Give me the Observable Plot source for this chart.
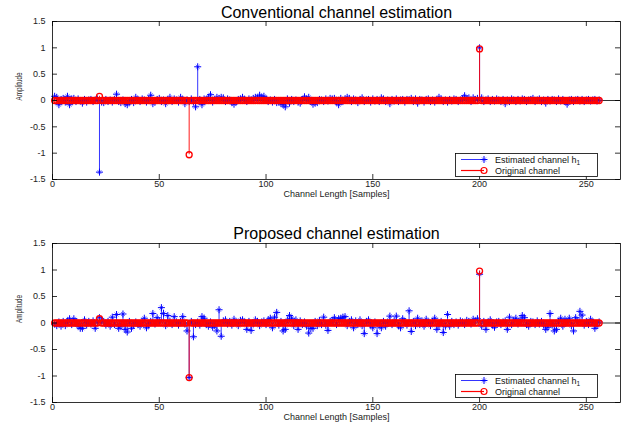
<!DOCTYPE html>
<html><head><meta charset="utf-8">
<script src="https://cdn.jsdelivr.net/npm/d3@7"></script>
<script src="https://cdn.jsdelivr.net/npm/@observablehq/plot@0.6"></script>
<style>
html,body{margin:0;padding:0;background:#fff;}
#wrap{position:relative;width:628px;height:423px;overflow:hidden;}
#wrap > svg{display:block;}
.legend{position:absolute;}
</style></head><body><div id="wrap"></div>
<script>
const panelTitles = ["Conventional channel estimation", "Proposed channel estimation"];
const xTicks = [0, 50, 100, 150, 200, 250];
const yTicks = [-1.5, -1, -0.5, 0, 0.5, 1, 1.5];
const xLabel = "Channel Length [Samples]";
const yLabel = "Amplitude";
const legendLabels = ["Estimated channel h", "Original channel"];
const legendSub = "1";
const sampleCount = 256;
// original channel: non-zero taps (all other taps are 0)
const origTaps = [22, 64, 200];
const origGains = [0.08, -1.03, 0.98];

const estConventional = [
 0.08, 0.06,-0.08, 0.02, 0.04,-0.03, 0.08,-0.08, 0.03, 0.04,-0.02, 0.03,-0.01,-0.05, 0.02,-0.03,
 0.01, 0.02,-0.02, 0.01, 0.03,-1.36,-0.03,-0.04, 0.02,-0.02, 0.01,-0.03, 0.02, 0.12,-0.02,-0.04,
 0.01,-0.06,-0.08,-0.03, 0.02,-0.04, 0.06, 0.02,-0.02, 0.03, 0.01,-0.03, 0.02, 0.10,-0.06,-0.03,
 0.02, 0.04,-0.02, 0.01,-0.06, 0.02, 0.06,-0.02, 0.03, 0.01,-0.03, 0.06, 0.02,-0.06, 0.01,-0.02,
 0.03,-0.03,-0.12, 0.64, 0.02,-0.08, 0.03, 0.02, 0.06, 0.11,-0.03, 0.02, 0.06, 0.04, 0.06, 0.05,
-0.02, 0.03, 0.01,-0.04,-0.07,-0.03, 0.02, 0.03, 0.06, 0.02,-0.02, 0.03, 0.01, 0.04, 0.06, 0.05,
 0.10, 0.06, 0.08, 0.03,-0.02, 0.01,-0.03, 0.02,-0.04,-0.03,-0.06,-0.08,-0.12, 0.03,-0.05, 0.02,
-0.02, 0.01,-0.03,-0.05, 0.02, 0.07, 0.03, 0.06,-0.02,-0.07,-0.05,-0.04, 0.02, 0.01,-0.02, 0.03,
-0.01, 0.04, 0.03, 0.04,-0.03,-0.08, 0.04,-0.02, 0.03, 0.06, 0.04,-0.02, 0.03, 0.01,-0.04, 0.02,
 0.05,-0.02, 0.01, 0.02,-0.03, 0.03,-0.01, 0.02,-0.02, 0.05, 0.03,-0.02, 0.01,-0.06, 0.02,-0.01,
 0.03,-0.02, 0.01, 0.02,-0.03, 0.02, 0.01, 0.04,-0.02, 0.03,-0.05, 0.02, 0.01,-0.03, 0.02, 0.03,
-0.02, 0.01,-0.03, 0.02, 0.06, 0.03,-0.02, 0.01,-0.03, 0.02,-0.01, 0.03, 0.02,-0.02, 0.01, 0.03,
 0.09, 0.02, 0.05,-0.02, 0.05, 0.02, 0.04, 1.00, 0.05,-0.02, 0.01, 0.03,-0.02, 0.02,-0.01, 0.03,
 0.01,-0.02, 0.02,-0.06, 0.01,-0.02, 0.03, 0.01,-0.02, 0.02,-0.01, 0.03, 0.02,-0.02, 0.01, 0.02,
 0.04,-0.02, 0.01, 0.03,-0.02, 0.01,-0.05, 0.02,-0.01, 0.02, 0.01,-0.02, 0.03,-0.01, 0.02,-0.02,
-0.07, 0.01, 0.02,-0.02, 0.01, 0.02,-0.01, 0.02,-0.02, 0.01, 0.02,-0.01, 0.01, 0.02,-0.01, 0.01
];

const estProposed = [
-0.02,-0.05, 0.02,-0.06, 0.03,-0.05, 0.04, 0.08,-0.03, 0.08, 0.03,-0.06,-0.10,-0.10, 0.06,-0.04,
 0.03,-0.02, 0.04,-0.10, 0.02, 0.10, 0.05, 0.03,-0.04, 0.03,-0.06, 0.11,-0.03, 0.16,-0.10,-0.06,
 0.17,-0.12,-0.17, 0.03,-0.10,-0.04, 0.02,-0.03,-0.06, 0.02, 0.09,-0.09,-0.04, 0.03, 0.18,-0.02,
 0.10, 0.04, 0.29, 0.18,-0.05, 0.14, 0.03,-0.03, 0.12, 0.02,-0.04, 0.03, 0.12,-0.02,-0.15,-1.03,
 0.03,-0.26,-0.03, 0.02,-0.04, 0.12, 0.09,-0.03,-0.06, 0.02,-0.08,-0.05,-0.15, 0.25,-0.25, 0.04,
 0.06,-0.02, 0.03,-0.04, 0.07, 0.02,-0.05, 0.05, 0.06, 0.02,-0.12, 0.03,-0.14,-0.02, 0.06, 0.03,
-0.05, 0.02, 0.04,-0.03, 0.06, 0.09,-0.09, 0.11, 0.20,-0.04, 0.03,-0.15,-0.12, 0.06, 0.14, 0.09,
-0.05, 0.06,-0.12, 0.04,-0.03, 0.02,-0.06,-0.19,-0.10,-0.10, 0.03,-0.05, 0.05,-0.03, 0.11,-0.04,
-0.14, 0.03, 0.05, 0.10,-0.03, 0.08, 0.09, 0.11, 0.12,-0.05, 0.03, 0.06,-0.09, 0.04,-0.03, 0.06,
-0.05,-0.20, 0.03, 0.06,-0.04,-0.09, 0.02,-0.20,-0.04,-0.09, 0.03,-0.06, 0.02, 0.13,-0.03, 0.04,
 0.13,-0.05,-0.09, 0.08, 0.03,-0.04, 0.23,-0.16, 0.03,-0.05, 0.09,-0.03, 0.04,-0.06, 0.07, 0.02,
-0.05, 0.03, 0.09,-0.12,-0.05, 0.03,-0.18,-0.06, 0.16,-0.06, 0.03,-0.03, 0.02,-0.04, 0.04, 0.02,
-0.03, 0.05, 0.03,-0.02, 0.07, 0.04, 0.08, 0.92,-0.06, 0.03,-0.12, 0.02, 0.06,-0.04,-0.08, 0.02,
 0.03,-0.03, 0.02, 0.04,-0.12, 0.11,-0.03, 0.05, 0.09,-0.02, 0.06, 0.14, 0.10,-0.03,-0.06, 0.03,
 0.02,-0.03, 0.04,-0.02, 0.03,-0.04,-0.12,-0.08, 0.18,-0.04,-0.15,-0.12, 0.03, 0.09,-0.06, 0.07,
 0.02, 0.09,-0.05,-0.15, 0.10, 0.04, 0.22, 0.15,-0.04, 0.03,-0.03, 0.07, 0.02,-0.10,-0.05, 0.02
];

const BLUE = "#0000ff", RED = "#ff0000";
const samples = d3.range(1, sampleCount + 1);
const origData = samples.map(n => {
  const k = origTaps.indexOf(n);
  return {n, v: k >= 0 ? origGains[k] : 0};
});
const fmt = d => String(d);

function panel(title, est, cfg) {
  const data = samples.map((n, i) => ({n, v: est[i]}));
  const H = cfg.height - cfg.marginTop - cfg.marginBottom;
  const W = 628 - cfg.marginLeft - cfg.marginRight;
  const tick = 5;
  return Plot.plot({
    width: 628, height: cfg.height,
    marginLeft: cfg.marginLeft, marginRight: cfg.marginRight,
    marginTop: cfg.marginTop, marginBottom: cfg.marginBottom,
    style: {fontFamily: "Liberation Sans, Arial, sans-serif", fontSize: "9px", color: "#222", background: "#fff", overflow: "visible"},
    x: {domain: [0, 266], ticks: xTicks},
    y: {domain: [-1.5, 1.5], ticks: yTicks},
    marks: [
      Plot.ruleY([0], {stroke: "#000", strokeWidth: 0.8}),
      Plot.ruleX(data, {x: "n", y1: 0, y2: "v", stroke: BLUE, strokeWidth: 0.8}),
      Plot.dot(data, {x: "n", y: "v", symbol: "plus", r: 2.4, stroke: BLUE, fill: "none", strokeWidth: 1}),
      Plot.dot(data, {x: "n", y: "v", symbol: "times", r: 1.9, stroke: BLUE, fill: "none", strokeWidth: 0.6}),
      Plot.ruleX(origData, {x: "n", y1: 0, y2: "v", stroke: RED, strokeWidth: 0.9}),
      Plot.dot(origData, {x: "n", y: "v", symbol: "circle", r: 3, stroke: RED, fill: "none", strokeWidth: 1.3}),
      Plot.frame({stroke: "#000", strokeWidth: 0.8}),
      Plot.ruleX(xTicks, {x: d => d, insetTop: H - tick, stroke: "#000", strokeWidth: 0.8}),
      Plot.ruleX(xTicks, {x: d => d, insetBottom: H - tick, stroke: "#000", strokeWidth: 0.8}),
      Plot.ruleY(yTicks, {y: d => d, insetRight: W - tick, stroke: "#000", strokeWidth: 0.8}),
      Plot.ruleY(yTicks, {y: d => d, insetLeft: W - tick, stroke: "#000", strokeWidth: 0.8}),
      Plot.axisX(xTicks, {tickSize: 0, tickPadding: 1.5, tickFormat: fmt, label: null, fontSize: 9}),
      Plot.axisY(yTicks, {tickSize: 0, tickPadding: 7, tickFormat: fmt, label: null, fontSize: 9}),
      Plot.text([title], {frameAnchor: "top", lineAnchor: "middle", dy: cfg.titleDy, fontSize: 16, fill: "#000"}),
      Plot.text([xLabel], {frameAnchor: "bottom", lineAnchor: "middle", dy: 14.5, fontSize: 9, fill: "#222"}),
      Plot.text([yLabel], {frameAnchor: "left", lineAnchor: "middle", dx: -33, rotate: -90, fontSize: 9, fill: "#222", className: "ylab"})
    ]
  });
}

function legend(top) {
  const svg = d3.create("svg").attr("class", "legend")
    .attr("width", 143).attr("height", 24)
    .style("left", "455px").style("top", top + "px");
  svg.append("rect").attr("x", 0.5).attr("y", 0.5).attr("width", 142).attr("height", 23)
    .attr("fill", "#fff").attr("stroke", "#000").attr("stroke-width", 0.8);
  const rows = [6.5, 17.5];
  svg.append("line").attr("x1", 6).attr("x2", 29).attr("y1", rows[0]).attr("y2", rows[0]).attr("stroke", BLUE).attr("stroke-width", 0.8);
  svg.append("path").attr("transform", `translate(29,${rows[0]})`).attr("d", d3.symbol(d3.symbolPlus, 18)()).attr("stroke", BLUE).attr("fill", "none");
  svg.append("path").attr("transform", `translate(29,${rows[0]})`).attr("d", d3.symbol(d3.symbolTimes, 12)()).attr("stroke", BLUE).attr("fill", "none").attr("stroke-width", 0.6);
  svg.append("line").attr("x1", 6).attr("x2", 29).attr("y1", rows[1]).attr("y2", rows[1]).attr("stroke", RED).attr("stroke-width", 1.2);
  svg.append("circle").attr("cx", 29).attr("cy", rows[1]).attr("r", 3).attr("stroke", RED).attr("fill", "none").attr("stroke-width", 1.2);
  const t1 = svg.append("text").attr("x", 40).attr("y", rows[0] + 3).attr("font-size", 9)
    .attr("font-family", "Liberation Sans, Arial, sans-serif").attr("fill", "#111");
  t1.append("tspan").text(legendLabels[0]);
  t1.append("tspan").attr("dy", 2.5).attr("font-size", 6.5).text(legendSub);
  svg.append("text").attr("x", 40).attr("y", rows[1] + 3).attr("font-size", 9)
    .attr("font-family", "Liberation Sans, Arial, sans-serif").attr("fill", "#111").text(legendLabels[1]);
  return svg.node();
}

const wrap = document.getElementById("wrap");
const p1 = panel(panelTitles[0], estConventional, {height: 211, marginTop: 21, marginBottom: 32, marginLeft: 52, marginRight: 8, titleDy: -9});
const p2 = panel(panelTitles[1], estProposed, {height: 212, marginTop: 32, marginBottom: 21, marginLeft: 52, marginRight: 8, titleDy: -10});
wrap.append(p1, p2);
wrap.append(legend(153), legend(374));
d3.selectAll(".ylab text").attr("textLength", 28).attr("lengthAdjust", "spacingAndGlyphs");
</script></body></html>
